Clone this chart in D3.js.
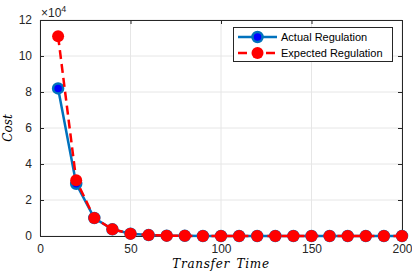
<!DOCTYPE html>
<html>
<head>
<meta charset="utf-8">
<script src="https://cdn.jsdelivr.net/npm/d3@7"></script>
<style>
body { margin: 0; background: #fff; }
svg text { font-family: "Liberation Sans", Arial, sans-serif; }
</style>
</head>
<body>
<svg id="chart" width="412" height="275"></svg>
<script>
// donnees (cout en unites de 1e4)
const transferTime = [10, 20, 30, 40, 50, 60, 70, 80, 90, 100, 110, 120, 130, 140, 150, 160, 170, 180, 190, 200];
const actualCost = [8.2, 2.9, 1.0, 0.37, 0.13, 0.05, 0.02, 0.01, 0, 0, 0, 0, 0, 0, 0, 0, 0, 0, 0, 0];
const expectedCost = [11.1, 3.1, 1.0, 0.37, 0.13, 0.05, 0.02, 0.01, 0, 0, 0, 0, 0, 0, 0, 0, 0, 0, 0, 0];
const xTicks = [0, 50, 100, 150, 200];
const yTicks = [0, 2, 4, 6, 8, 10, 12];
const seriesNames = ["Actual Regulation", "Expected Regulation"];

const svg = d3.select("#chart");
const mLeft = 40, mRight = 402, mTop = 20, mBottom = 236;

const x = d3.scaleLinear().domain([0, 200]).range([mLeft, mRight]);
const y = d3.scaleLinear().domain([0, 12]).range([mBottom, mTop]);

// grille
let grid = svg.append("g");
xTicks.forEach(function (t) {
    grid.append("line")
        .attr("x1", x(t)).attr("x2", x(t))
        .attr("y1", mTop).attr("y2", mBottom)
        .style("stroke", "#e6e6e6").style("stroke-width", 1);
});
yTicks.forEach(function (t) {
    grid.append("line")
        .attr("x1", mLeft).attr("x2", mRight)
        .attr("y1", y(t)).attr("y2", y(t))
        .style("stroke", "#e6e6e6").style("stroke-width", 1);
});

// axes
let xAxis = svg.append("g")
    .attr("transform", "translate(0," + mBottom + ")")
    .call(d3.axisBottom(x).tickValues(xTicks).tickSize(-4).tickPadding(8));
let yAxis = svg.append("g")
    .attr("transform", "translate(" + mLeft + ",0)")
    .call(d3.axisLeft(y).tickValues(yTicks).tickSize(-4).tickPadding(8));
let xTop = svg.append("g")
    .attr("transform", "translate(0," + mTop + ")")
    .call(d3.axisTop(x).tickValues(xTicks).tickSize(-4).tickFormat(""));
let yRight = svg.append("g")
    .attr("transform", "translate(" + mRight + ",0)")
    .call(d3.axisRight(y).tickValues(yTicks).tickSize(-4).tickFormat(""));

[xAxis, yAxis, xTop, yRight].forEach(function (a) {
    a.selectAll("path").style("stroke", "#262626");
    a.selectAll("line").style("stroke", "#262626");
    a.selectAll("text").style("font-size", "12px").style("fill", "#262626");
});

// exposant
let expo = svg.append("text").attr("x", 41).attr("y", 17)
    .style("font-size", "12px").style("fill", "#262626");
expo.append("tspan").text("\u00d710");
expo.append("tspan").attr("dy", -5).style("font-size", "9px").text("4");

// titres d'axes
svg.append("text")
    .attr("x", (mLeft + mRight) / 2).attr("y", 268)
    .attr("text-anchor", "middle")
    .style("font-family", "'DejaVu Serif', serif").style("font-style", "italic")
    .style("font-size", "12px").style("fill", "#000")
    .style("letter-spacing", "0.7px")
    .text("Transfer\u2002Time");
svg.append("text")
    .attr("transform", "translate(12," + (mTop + mBottom) / 2 + ") rotate(-90)")
    .attr("text-anchor", "middle")
    .style("font-family", "'DejaVu Serif', serif").style("font-style", "italic")
    .style("font-size", "12px").style("fill", "#000")
    .text("Cost");

const lineGen = d3.line().x(function (d) { return x(d[0]); }).y(function (d) { return y(d[1]); });

let actual = transferTime.map(function (t, i) { return [t, actualCost[i]]; });
let expected = transferTime.map(function (t, i) { return [t, expectedCost[i]]; });

svg.append("path").attr("d", lineGen(actual))
    .style("stroke", "#0072bd").style("stroke-width", 2.5).style("fill", "none");
svg.selectAll(".ptA").data(actual).enter().append("circle")
    .attr("class", "ptA")
    .attr("cx", function (d) { return x(d[0]); }).attr("cy", function (d) { return y(d[1]); })
    .attr("r", 5).style("fill", "#0000ff").style("stroke", "#0072bd").style("stroke-width", 2.5);

svg.append("path").attr("d", lineGen(expected))
    .style("stroke", "#ff0000").style("stroke-width", 2.5).style("fill", "none")
    .style("stroke-dasharray", "9,5");
svg.selectAll(".ptE").data(expected).enter().append("circle")
    .attr("class", "ptE")
    .attr("cx", function (d) { return x(d[0]); }).attr("cy", function (d) { return y(d[1]); })
    .attr("r", 6).style("fill", "#ff0000");

// legende
let legend = svg.append("g");
legend.append("rect").attr("x", 233.5).attr("y", 27.5).attr("width", 159).attr("height", 34)
    .style("fill", "#fff").style("stroke", "#262626").style("stroke-width", 1);
legend.append("line").attr("x1", 238).attr("x2", 277).attr("y1", 37).attr("y2", 37)
    .style("stroke", "#0072bd").style("stroke-width", 2.5);
legend.append("circle").attr("cx", 257.5).attr("cy", 37).attr("r", 5)
    .style("fill", "#0000ff").style("stroke", "#0072bd").style("stroke-width", 2.5);
legend.append("line").attr("x1", 238).attr("x2", 277).attr("y1", 53).attr("y2", 53)
    .style("stroke", "#ff0000").style("stroke-width", 2.5).style("stroke-dasharray", "9,5");
legend.append("circle").attr("cx", 257.5).attr("cy", 53).attr("r", 6).style("fill", "#ff0000");
seriesNames.forEach(function (n, i) {
    legend.append("text").attr("x", 281).attr("y", 41 + i * 16)
        .style("font-size", "11px").style("fill", "#000").text(n);
});
</script>
</body>
</html>
